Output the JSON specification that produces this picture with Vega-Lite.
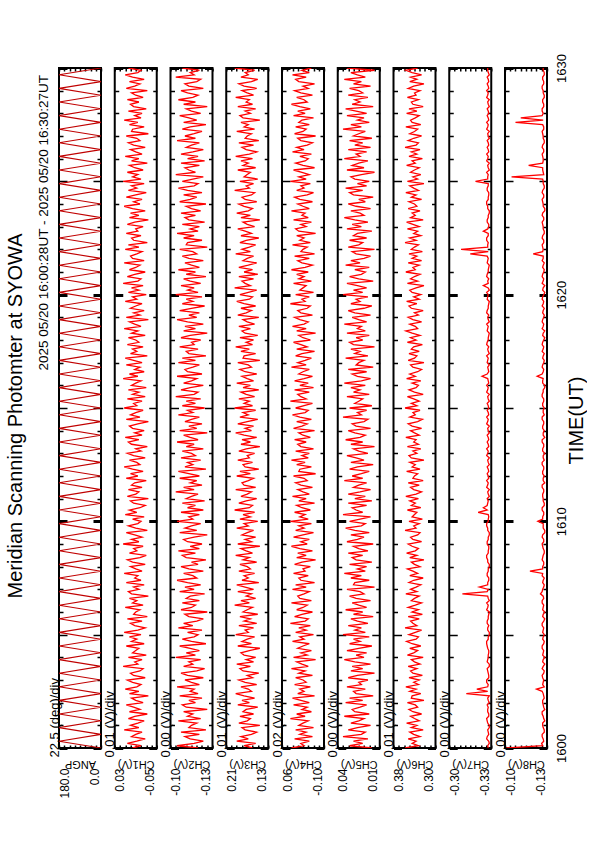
{
"$schema":"https://vega.github.io/schema/vega-lite/v6.json",
"background":"white",
"padding":{"left":5,"top":52,"right":0,"bottom":0},
"autosize":{"type":"pad"},
"title":{"text":"Meridian Scanning Photomter at SYOWA","orient":"left","anchor":"middle","frame":"group","fontSize":20,"fontWeight":"normal","font":"Liberation Sans","color":"black","offset":10,"dx":-8},
"config":{"font":"Liberation Sans","view":{"stroke":"black","strokeWidth":2},"axis":{"domain":false,"grid":false,"tickColor":"black","labelColor":"black","titleColor":"black","labelFont":"Liberation Sans","titleFont":"Liberation Sans","labelFontWeight":"normal","titleFontWeight":"normal"}},
"bounds":"flush",
"spacing":13.75,
"datasets":{
"ang":[{"t":1600.0,"a":0},{"t":1600.3,"a":180},{"t":1600.6,"a":0},{"t":1600.9,"a":180},{"t":1601.2,"a":0},{"t":1601.5,"a":180},{"t":1601.8,"a":0},{"t":1602.1,"a":180},{"t":1602.4,"a":0},{"t":1602.7,"a":180},{"t":1603.0,"a":0},{"t":1603.3,"a":180},{"t":1603.6,"a":0},{"t":1603.9,"a":180},{"t":1604.2,"a":0},{"t":1604.5,"a":180},{"t":1604.8,"a":0},{"t":1605.1,"a":180},{"t":1605.4,"a":0},{"t":1605.7,"a":180},{"t":1606.0,"a":0},{"t":1606.3,"a":180},{"t":1606.6,"a":0},{"t":1606.9,"a":180},{"t":1607.2,"a":0},{"t":1607.5,"a":180},{"t":1607.8,"a":0},{"t":1608.1,"a":180},{"t":1608.4,"a":0},{"t":1608.7,"a":180},{"t":1609.0,"a":0},{"t":1609.3,"a":180},{"t":1609.6,"a":0},{"t":1609.9,"a":180},{"t":1610.2,"a":0},{"t":1610.5,"a":180},{"t":1610.8,"a":0},{"t":1611.1,"a":180},{"t":1611.4,"a":0},{"t":1611.7,"a":180},{"t":1612.0,"a":0},{"t":1612.3,"a":180},{"t":1612.6,"a":0},{"t":1612.9,"a":180},{"t":1613.2,"a":0},{"t":1613.5,"a":180},{"t":1613.8,"a":0},{"t":1614.1,"a":180},{"t":1614.4,"a":0},{"t":1614.7,"a":180},{"t":1615.0,"a":0},{"t":1615.3,"a":180},{"t":1615.6,"a":0},{"t":1615.9,"a":180},{"t":1616.2,"a":0},{"t":1616.5,"a":180},{"t":1616.8,"a":0},{"t":1617.1,"a":180},{"t":1617.4,"a":0},{"t":1617.7,"a":180},{"t":1618.0,"a":0},{"t":1618.3,"a":180},{"t":1618.6,"a":0},{"t":1618.9,"a":180},{"t":1619.2,"a":0},{"t":1619.5,"a":180},{"t":1619.8,"a":0},{"t":1620.1,"a":180},{"t":1620.4,"a":0},{"t":1620.7,"a":180},{"t":1621.0,"a":0},{"t":1621.3,"a":180},{"t":1621.6,"a":0},{"t":1621.9,"a":180},{"t":1622.2,"a":0},{"t":1622.5,"a":180},{"t":1622.8,"a":0},{"t":1623.1,"a":180},{"t":1623.4,"a":0},{"t":1623.7,"a":180},{"t":1624.0,"a":0},{"t":1624.3,"a":180},{"t":1624.6,"a":0},{"t":1624.9,"a":180},{"t":1625.2,"a":0},{"t":1625.5,"a":180},{"t":1625.8,"a":0},{"t":1626.1,"a":180},{"t":1626.4,"a":0},{"t":1626.7,"a":180},{"t":1627.0,"a":0},{"t":1627.3,"a":180},{"t":1627.6,"a":0},{"t":1627.9,"a":180},{"t":1628.2,"a":0},{"t":1628.5,"a":180},{"t":1628.8,"a":0},{"t":1629.1,"a":180},{"t":1629.4,"a":0},{"t":1629.7,"a":180},{"t":1630.0,"a":0}],
"ch":[
{"t":1600.0,"c1":-0.004,"c2":-0.121,"c3":0.160,"c4":0.024,"c5":0.014,"c6":0.358,"c7":-0.3297,"c8":-0.101},
{"t":1600.1,"c1":-0.020,"c2":-0.105,"c3":0.176,"c4":-0.024,"c5":0.031,"c6":0.3325,"c7":-0.3293,"c8":-0.1287},
{"t":1600.2,"c1":0.006,"c2":-0.118,"c3":0.154,"c4":-0.012,"c5":0.021,"c6":0.3445,"c7":-0.3305,"c8":-0.1279},
{"t":1600.3,"c1":-0.012,"c2":-0.125,"c3":0.190,"c4":-0.044,"c5":0.028,"c6":0.337,"c7":-0.3301,"c8":-0.1295},
{"t":1600.4,"c1":-0.028,"c2":-0.115,"c3":0.168,"c4":0.012,"c5":0.017,"c6":0.352,"c7":-0.3285,"c8":-0.1291},
{"t":1600.5,"c1":-0.002,"c2":-0.111,"c3":0.182,"c4":-0.056,"c5":0.036,"c6":0.3295,"c7":-0.3289,"c8":-0.1283},
{"t":1600.6,"c1":-0.010,"c2":-0.122,"c3":0.162,"c4":-0.008,"c5":0.022,"c6":0.3415,"c7":-0.3301,"c8":-0.1283},
{"t":1600.7,"c1":-0.022,"c2":-0.108,"c3":0.152,"c4":-0.032,"c5":0.019,"c6":0.349,"c7":-0.3297,"c8":-0.1299},
{"t":1600.8,"c1":0.012,"c2":-0.127,"c3":0.174,"c4":0.008,"c5":0.032,"c6":0.3235,"c7":-0.3293,"c8":-0.1299},
{"t":1600.9,"c1":-0.016,"c2":-0.114,"c3":0.180,"c4":-0.060,"c5":0.025,"c6":0.346,"c7":-0.3305,"c8":-0.1291},
{"t":1601.0,"c1":0.000,"c2":-0.116,"c3":0.146,"c4":-0.004,"c5":0.015,"c6":0.3355,"c7":-0.3305,"c8":-0.1287},
{"t":1601.1,"c1":-0.014,"c2":-0.120,"c3":0.186,"c4":-0.020,"c5":0.030,"c6":0.355,"c7":-0.3293,"c8":-0.1287},
{"t":1601.2,"c1":-0.026,"c2":-0.106,"c3":0.170,"c4":-0.040,"c5":0.024,"c6":0.331,"c7":-0.3289,"c8":-0.1303},
{"t":1601.3,"c1":0.004,"c2":-0.123,"c3":0.164,"c4":0.028,"c5":0.020,"c6":0.340,"c7":-0.3285,"c8":-0.1295},
{"t":1601.4,"c1":-0.008,"c2":-0.113,"c3":0.184,"c4":-0.028,"c5":0.035,"c6":0.3475,"c7":-0.3301,"c8":-0.1291},
{"t":1601.5,"c1":-0.032,"c2":-0.117,"c3":0.158,"c4":0.004,"c5":0.016,"c6":0.3265,"c7":-0.3301,"c8":-0.1283},
{"t":1601.6,"c1":0.002,"c2":-0.110,"c3":0.178,"c4":-0.052,"c5":0.027,"c6":0.343,"c7":-0.3293,"c8":-0.1283},
{"t":1601.7,"c1":-0.018,"c2":-0.128,"c3":0.172,"c4":-0.016,"c5":0.029,"c6":0.3505,"c7":-0.3293,"c8":-0.1303},
{"t":1601.8,"c1":-0.006,"c2":-0.112,"c3":0.150,"c4":-0.036,"c5":0.023,"c6":0.334,"c7":-0.3297,"c8":-0.1295},
{"t":1601.9,"c1":0.008,"c2":-0.109,"c3":0.188,"c4":0.016,"c5":0.018,"c6":0.3385,"c7":-0.3289,"c8":-0.1291},
{"t":1602.0,"c1":-0.024,"c2":-0.119,"c3":0.166,"c4":-0.044,"c5":0.034,"c6":0.3535,"c7":-0.3305,"c8":-0.1287},
{"t":1602.1,"c1":-0.010,"c2":-0.114,"c3":0.180,"c4":-0.012,"c5":0.021,"c6":0.322,"c7":-0.3297,"c8":-0.1287},
{"t":1602.2,"c1":-0.002,"c2":-0.124,"c3":0.156,"c4":0.020,"c5":0.031,"c6":0.346,"c7":-0.3293,"c8":-0.1299},
{"t":1602.3,"c1":-0.034,"c2":-0.107,"c3":0.176,"c4":-0.064,"c5":0.013,"c6":0.3445,"c7":-0.3305,"c8":-0.1295},
{"t":1602.4,"c1":0.002,"c2":-0.121,"c3":0.192,"c4":0.000,"c5":0.026,"c6":0.328,"c7":-0.3130,"c8":-0.1291},
{"t":1602.5,"c1":-0.016,"c2":-0.115,"c3":0.162,"c4":-0.024,"c5":0.028,"c6":0.349,"c7":-0.3293,"c8":-0.1283},
{"t":1602.6,"c1":0.010,"c2":-0.118,"c3":0.168,"c4":-0.008,"c5":0.019,"c6":0.337,"c7":-0.3210,"c8":-0.1240},
{"t":1602.7,"c1":-0.012,"c2":-0.105,"c3":0.182,"c4":-0.048,"c5":0.033,"c6":0.3565,"c7":-0.3293,"c8":-0.1299},
{"t":1602.8,"c1":-0.020,"c2":-0.122,"c3":0.152,"c4":0.012,"c5":0.022,"c6":0.3325,"c7":-0.3297,"c8":-0.1287},
{"t":1602.9,"c1":-0.004,"c2":-0.116,"c3":0.174,"c4":-0.032,"c5":0.024,"c6":0.3415,"c7":-0.3285,"c8":-0.1291},
{"t":1603.0,"c1":0.006,"c2":-0.111,"c3":0.186,"c4":-0.020,"c5":0.017,"c6":0.331,"c7":-0.3285,"c8":-0.1295},
{"t":1603.1,"c1":-0.028,"c2":-0.125,"c3":0.160,"c4":0.008,"c5":0.032,"c6":0.3505,"c7":-0.3301,"c8":-0.1287},
{"t":1603.2,"c1":-0.006,"c2":-0.113,"c3":0.170,"c4":-0.056,"c5":0.025,"c6":0.325,"c7":-0.3301,"c8":-0.1283},
{"t":1603.3,"c1":0.000,"c2":-0.108,"c3":0.148,"c4":-0.004,"c5":0.012,"c6":0.343,"c7":-0.3297,"c8":-0.1295},
{"t":1603.4,"c1":-0.018,"c2":-0.120,"c3":0.178,"c4":-0.028,"c5":0.030,"c6":0.3475,"c7":-0.3293,"c8":-0.1299},
{"t":1603.5,"c1":-0.024,"c2":-0.126,"c3":0.184,"c4":0.024,"c5":0.021,"c6":0.3355,"c7":-0.3289,"c8":-0.1283},
{"t":1603.6,"c1":0.014,"c2":-0.110,"c3":0.164,"c4":-0.040,"c5":0.029,"c6":0.352,"c7":-0.3305,"c8":-0.1291},
{"t":1603.7,"c1":-0.014,"c2":-0.117,"c3":0.190,"c4":-0.016,"c5":0.015,"c6":0.3295,"c7":-0.3305,"c8":-0.1303},
{"t":1603.8,"c1":-0.008,"c2":-0.114,"c3":0.158,"c4":0.004,"c5":0.027,"c6":0.340,"c7":-0.3289,"c8":-0.1287},
{"t":1603.9,"c1":-0.022,"c2":-0.123,"c3":0.172,"c4":-0.068,"c5":0.035,"c6":0.346,"c7":-0.3293,"c8":-0.1291},
{"t":1604.0,"c1":0.004,"c2":-0.104,"c3":0.154,"c4":0.016,"c5":0.020,"c6":0.3235,"c7":-0.3297,"c8":-0.1303},
{"t":1604.1,"c1":-0.030,"c2":-0.119,"c3":0.176,"c4":-0.036,"c5":0.026,"c6":0.3535,"c7":-0.3297,"c8":-0.1287},
{"t":1604.2,"c1":-0.004,"c2":-0.112,"c3":0.182,"c4":-0.012,"c5":0.018,"c6":0.3415,"c7":-0.3301,"c8":-0.1291},
{"t":1604.3,"c1":-0.010,"c2":-0.122,"c3":0.166,"c4":-0.052,"c5":0.033,"c6":0.334,"c7":-0.3301,"c8":-0.1295},
{"t":1604.4,"c1":-0.016,"c2":-0.115,"c3":0.146,"c4":0.000,"c5":0.024,"c6":0.349,"c7":-0.3293,"c8":-0.1283},
{"t":1604.5,"c1":0.008,"c2":-0.107,"c3":0.188,"c4":-0.020,"c5":0.014,"c6":0.328,"c7":-0.3289,"c8":-0.1283},
{"t":1604.6,"c1":-0.026,"c2":-0.127,"c3":0.162,"c4":-0.044,"c5":0.031,"c6":0.3445,"c7":-0.3285,"c8":-0.1295},
{"t":1604.7,"c1":-0.002,"c2":-0.116,"c3":0.180,"c4":0.020,"c5":0.023,"c6":0.355,"c7":-0.3285,"c8":-0.1299},
{"t":1604.8,"c1":-0.012,"c2":-0.109,"c3":0.170,"c4":-0.024,"c5":0.028,"c6":0.337,"c7":-0.3297,"c8":-0.1287},
{"t":1604.9,"c1":0.002,"c2":-0.118,"c3":0.156,"c4":-0.008,"c5":0.016,"c6":0.3325,"c7":-0.3297,"c8":-0.1291},
{"t":1605.0,"c1":-0.020,"c2":-0.121,"c3":0.192,"c4":-0.060,"c5":0.036,"c6":0.3505,"c7":-0.3305,"c8":-0.1299},
{"t":1605.1,"c1":0.012,"c2":-0.113,"c3":0.168,"c4":0.008,"c5":0.019,"c6":0.3385,"c7":-0.3305,"c8":-0.1287},
{"t":1605.2,"c1":-0.014,"c2":-0.124,"c3":0.174,"c4":-0.032,"c5":0.027,"c6":0.3265,"c7":-0.3293,"c8":-0.1291},
{"t":1605.3,"c1":-0.028,"c2":-0.106,"c3":0.158,"c4":-0.004,"c5":0.022,"c6":0.358,"c7":-0.3293,"c8":-0.1295},
{"t":1605.4,"c1":-0.008,"c2":-0.117,"c3":0.186,"c4":-0.048,"c5":0.032,"c6":0.3355,"c7":-0.3301,"c8":-0.1283},
{"t":1605.5,"c1":0.000,"c2":-0.110,"c3":0.152,"c4":0.028,"c5":0.017,"c6":0.343,"c7":-0.3289,"c8":-0.1283},
{"t":1605.6,"c1":-0.022,"c2":-0.120,"c3":0.176,"c4":-0.028,"c5":0.025,"c6":0.3475,"c7":-0.3289,"c8":-0.1295},
{"t":1605.7,"c1":0.006,"c2":-0.125,"c3":0.164,"c4":-0.040,"c5":0.030,"c6":0.331,"c7":-0.3297,"c8":-0.1303},
{"t":1605.8,"c1":-0.032,"c2":-0.114,"c3":0.184,"c4":0.012,"c5":0.013,"c6":0.352,"c7":-0.3297,"c8":-0.1287},
{"t":1605.9,"c1":-0.006,"c2":-0.111,"c3":0.150,"c4":-0.016,"c5":0.028,"c6":0.325,"c7":-0.3301,"c8":-0.1291},
{"t":1606.0,"c1":-0.010,"c2":-0.128,"c3":0.178,"c4":-0.056,"c5":0.021,"c6":0.3445,"c7":-0.3305,"c8":-0.1303},
{"t":1606.1,"c1":-0.018,"c2":-0.108,"c3":0.170,"c4":0.004,"c5":0.034,"c6":0.3325,"c7":-0.3285,"c8":-0.1287},
{"t":1606.2,"c1":0.010,"c2":-0.116,"c3":0.160,"c4":-0.020,"c5":0.018,"c6":0.352,"c7":-0.3293,"c8":-0.1291},
{"t":1606.3,"c1":-0.024,"c2":-0.119,"c3":0.194,"c4":-0.036,"c5":0.024,"c6":0.3385,"c7":-0.3297,"c8":-0.1295},
{"t":1606.4,"c1":-0.004,"c2":-0.109,"c3":0.166,"c4":0.024,"c5":0.029,"c6":0.3265,"c7":-0.3285,"c8":-0.1283},
{"t":1606.5,"c1":-0.012,"c2":-0.122,"c3":0.182,"c4":-0.052,"c5":0.015,"c6":0.346,"c7":-0.3305,"c8":-0.1283},
{"t":1606.6,"c1":0.002,"c2":-0.112,"c3":0.154,"c4":-0.008,"c5":0.026,"c6":0.340,"c7":-0.3297,"c8":-0.1295},
{"t":1606.7,"c1":-0.034,"c2":-0.115,"c3":0.172,"c4":0.000,"c5":0.031,"c6":0.331,"c7":-0.3293,"c8":-0.1291},
{"t":1606.8,"c1":-0.002,"c2":-0.126,"c3":0.162,"c4":-0.024,"c5":0.020,"c6":0.3565,"c7":-0.3100,"c8":-0.1270},
{"t":1606.9,"c1":0.004,"c2":-0.107,"c3":0.188,"c4":-0.044,"c5":0.023,"c6":0.3355,"c7":-0.3289,"c8":-0.1283},
{"t":1607.0,"c1":-0.016,"c2":-0.118,"c3":0.158,"c4":0.020,"c5":0.033,"c6":0.3475,"c7":-0.3297,"c8":-0.1287},
{"t":1607.1,"c1":-0.006,"c2":-0.111,"c3":0.174,"c4":-0.032,"c5":0.012,"c6":0.337,"c7":-0.3230,"c8":-0.1295},
{"t":1607.2,"c1":-0.026,"c2":-0.123,"c3":0.190,"c4":0.008,"c5":0.028,"c6":0.328,"c7":-0.3293,"c8":-0.1299},
{"t":1607.3,"c1":0.008,"c2":-0.113,"c3":0.148,"c4":-0.064,"c5":0.027,"c6":0.3505,"c7":-0.3293,"c8":-0.1287},
{"t":1607.4,"c1":-0.020,"c2":-0.105,"c3":0.180,"c4":-0.012,"c5":0.016,"c6":0.3415,"c7":-0.3301,"c8":-0.1291},
{"t":1607.5,"c1":-0.008,"c2":-0.120,"c3":0.168,"c4":-0.004,"c5":0.030,"c6":0.3235,"c7":-0.3301,"c8":-0.1299},
{"t":1607.6,"c1":-0.014,"c2":-0.117,"c3":0.176,"c4":-0.040,"c5":0.022,"c6":0.349,"c7":-0.3289,"c8":-0.1283},
{"t":1607.7,"c1":0.012,"c2":-0.110,"c3":0.156,"c4":0.016,"c5":0.035,"c6":0.334,"c7":-0.3289,"c8":-0.1287},
{"t":1607.8,"c1":-0.022,"c2":-0.125,"c3":0.186,"c4":-0.028,"c5":0.019,"c6":0.343,"c7":-0.3297,"c8":-0.1190},
{"t":1607.9,"c1":-0.010,"c2":-0.114,"c3":0.164,"c4":-0.020,"c5":0.025,"c6":0.3535,"c7":-0.3297,"c8":-0.1287},
{"t":1608.0,"c1":0.000,"c2":-0.108,"c3":0.170,"c4":-0.048,"c5":0.018,"c6":0.3295,"c7":-0.3305,"c8":-0.1287},
{"t":1608.1,"c1":-0.028,"c2":-0.121,"c3":0.184,"c4":0.012,"c5":0.031,"c6":0.340,"c7":-0.3305,"c8":-0.1295},
{"t":1608.2,"c1":-0.004,"c2":-0.116,"c3":0.152,"c4":-0.016,"c5":0.014,"c6":0.346,"c7":-0.3293,"c8":-0.1295},
{"t":1608.3,"c1":0.006,"c2":-0.127,"c3":0.178,"c4":-0.068,"c5":0.026,"c6":0.322,"c7":-0.3293,"c8":-0.1283},
{"t":1608.4,"c1":-0.018,"c2":-0.112,"c3":0.166,"c4":0.004,"c5":0.029,"c6":0.349,"c7":-0.3285,"c8":-0.1287},
{"t":1608.5,"c1":-0.030,"c2":-0.109,"c3":0.192,"c4":-0.032,"c5":0.021,"c6":0.3355,"c7":-0.3285,"c8":-0.1291},
{"t":1608.6,"c1":0.002,"c2":-0.119,"c3":0.160,"c4":0.000,"c5":0.032,"c6":0.355,"c7":-0.3297,"c8":-0.1299},
{"t":1608.7,"c1":-0.012,"c2":-0.106,"c3":0.172,"c4":-0.056,"c5":0.017,"c6":0.3385,"c7":-0.3297,"c8":-0.1299},
{"t":1608.8,"c1":-0.006,"c2":-0.122,"c3":0.182,"c4":-0.008,"c5":0.024,"c6":0.3325,"c7":-0.3301,"c8":-0.1291},
{"t":1608.9,"c1":-0.024,"c2":-0.115,"c3":0.146,"c4":0.024,"c5":0.028,"c6":0.3445,"c7":-0.3301,"c8":-0.1287},
{"t":1609.0,"c1":0.014,"c2":-0.124,"c3":0.188,"c4":-0.036,"c5":0.013,"c6":0.352,"c7":-0.3289,"c8":-0.1283},
{"t":1609.1,"c1":-0.016,"c2":-0.113,"c3":0.162,"c4":-0.012,"c5":0.033,"c6":0.3265,"c7":-0.3289,"c8":-0.1295},
{"t":1609.2,"c1":-0.002,"c2":-0.110,"c3":0.174,"c4":-0.044,"c5":0.025,"c6":0.343,"c7":-0.3297,"c8":-0.1295},
{"t":1609.3,"c1":-0.022,"c2":-0.118,"c3":0.154,"c4":0.016,"c5":0.020,"c6":0.3475,"c7":-0.3297,"c8":-0.1283},
{"t":1609.4,"c1":-0.008,"c2":-0.128,"c3":0.180,"c4":-0.020,"c5":0.030,"c6":0.334,"c7":-0.3305,"c8":-0.1287},
{"t":1609.5,"c1":0.008,"c2":-0.107,"c3":0.170,"c4":-0.060,"c5":0.016,"c6":0.3295,"c7":-0.3305,"c8":-0.1303},
{"t":1609.6,"c1":-0.032,"c2":-0.120,"c3":0.158,"c4":0.008,"c5":0.027,"c6":0.358,"c7":-0.3293,"c8":-0.1303},
{"t":1609.7,"c1":-0.010,"c2":-0.111,"c3":0.190,"c4":-0.024,"c5":0.034,"c6":0.337,"c7":-0.3293,"c8":-0.1291},
{"t":1609.8,"c1":0.004,"c2":-0.116,"c3":0.168,"c4":-0.004,"c5":0.022,"c6":0.3415,"c7":-0.3285,"c8":-0.1291},
{"t":1609.9,"c1":-0.014,"c2":-0.123,"c3":0.176,"c4":-0.052,"c5":0.019,"c6":0.331,"c7":-0.3285,"c8":-0.1291},
{"t":1610.0,"c1":-0.020,"c2":-0.105,"c3":0.150,"c4":0.028,"c5":0.031,"c6":0.3505,"c7":-0.3297,"c8":-0.1250},
{"t":1610.1,"c1":-0.004,"c2":-0.117,"c3":0.184,"c4":-0.040,"c5":0.023,"c6":0.325,"c7":-0.3297,"c8":-0.1287},
{"t":1610.2,"c1":-0.026,"c2":-0.114,"c3":0.164,"c4":-0.008,"c5":0.015,"c6":0.3445,"c7":-0.3301,"c8":-0.1287},
{"t":1610.3,"c1":0.010,"c2":-0.122,"c3":0.178,"c4":-0.028,"c5":0.036,"c6":0.340,"c7":-0.3297,"c8":-0.1295},
{"t":1610.4,"c1":-0.012,"c2":-0.108,"c3":0.156,"c4":0.012,"c5":0.021,"c6":0.3355,"c7":-0.3220,"c8":-0.1295},
{"t":1610.5,"c1":0.002,"c2":-0.125,"c3":0.194,"c4":-0.048,"c5":0.026,"c6":0.3535,"c7":-0.3289,"c8":-0.1283},
{"t":1610.6,"c1":-0.018,"c2":-0.113,"c3":0.166,"c4":-0.016,"c5":0.029,"c6":0.328,"c7":-0.3260,"c8":-0.1283},
{"t":1610.7,"c1":-0.028,"c2":-0.119,"c3":0.160,"c4":0.004,"c5":0.018,"c6":0.346,"c7":-0.3289,"c8":-0.1299},
{"t":1610.8,"c1":-0.006,"c2":-0.109,"c3":0.186,"c4":-0.064,"c5":0.032,"c6":0.3385,"c7":-0.3293,"c8":-0.1299},
{"t":1610.9,"c1":0.000,"c2":-0.126,"c3":0.172,"c4":-0.004,"c5":0.014,"c6":0.349,"c7":-0.3297,"c8":-0.1291},
{"t":1611.0,"c1":-0.034,"c2":-0.112,"c3":0.152,"c4":-0.032,"c5":0.027,"c6":0.3325,"c7":-0.3289,"c8":-0.1291},
{"t":1611.1,"c1":0.006,"c2":-0.116,"c3":0.182,"c4":0.020,"c5":0.019,"c6":0.3565,"c7":-0.3305,"c8":-0.1287},
{"t":1611.2,"c1":-0.010,"c2":-0.121,"c3":0.170,"c4":-0.044,"c5":0.032,"c6":0.337,"c7":-0.3297,"c8":-0.1287},
{"t":1611.3,"c1":-0.016,"c2":-0.104,"c3":0.162,"c4":-0.020,"c5":0.023,"c6":0.3265,"c7":-0.3293,"c8":-0.1295},
{"t":1611.4,"c1":0.004,"c2":-0.118,"c3":0.192,"c4":0.000,"c5":0.015,"c6":0.3415,"c7":-0.3305,"c8":-0.1295},
{"t":1611.5,"c1":-0.022,"c2":-0.110,"c3":0.154,"c4":-0.056,"c5":0.028,"c6":0.3475,"c7":-0.3285,"c8":-0.1283},
{"t":1611.6,"c1":-0.002,"c2":-0.124,"c3":0.176,"c4":-0.012,"c5":0.024,"c6":0.331,"c7":-0.3293,"c8":-0.1283},
{"t":1611.7,"c1":-0.008,"c2":-0.115,"c3":0.180,"c4":0.008,"c5":0.018,"c6":0.352,"c7":-0.3297,"c8":-0.1303},
{"t":1611.8,"c1":-0.030,"c2":-0.120,"c3":0.168,"c4":-0.036,"c5":0.035,"c6":0.3235,"c7":-0.3285,"c8":-0.1291},
{"t":1611.9,"c1":0.008,"c2":-0.107,"c3":0.158,"c4":-0.024,"c5":0.021,"c6":0.343,"c7":-0.3301,"c8":-0.1291},
{"t":1612.0,"c1":-0.014,"c2":-0.122,"c3":0.190,"c4":0.016,"c5":0.029,"c6":0.340,"c7":-0.3297,"c8":-0.1299},
{"t":1612.1,"c1":0.000,"c2":-0.114,"c3":0.164,"c4":-0.068,"c5":0.022,"c6":0.334,"c7":-0.3289,"c8":-0.1287},
{"t":1612.2,"c1":-0.024,"c2":-0.106,"c3":0.184,"c4":-0.004,"c5":0.016,"c6":0.355,"c7":-0.3301,"c8":-0.1287},
{"t":1612.3,"c1":-0.004,"c2":-0.127,"c3":0.148,"c4":-0.008,"c5":0.031,"c6":0.3295,"c7":-0.3297,"c8":-0.1295},
{"t":1612.4,"c1":0.012,"c2":-0.111,"c3":0.174,"c4":-0.052,"c5":0.025,"c6":0.3445,"c7":-0.3289,"c8":-0.1295},
{"t":1612.5,"c1":-0.018,"c2":-0.117,"c3":0.178,"c4":0.004,"c5":0.013,"c6":0.3385,"c7":-0.3305,"c8":-0.1283},
{"t":1612.6,"c1":-0.012,"c2":-0.113,"c3":0.160,"c4":-0.028,"c5":0.030,"c6":0.349,"c7":-0.3297,"c8":-0.1283},
{"t":1612.7,"c1":0.002,"c2":-0.123,"c3":0.188,"c4":0.024,"c5":0.020,"c6":0.322,"c7":-0.3293,"c8":-0.1299},
{"t":1612.8,"c1":-0.028,"c2":-0.108,"c3":0.166,"c4":-0.040,"c5":0.026,"c6":0.346,"c7":-0.3305,"c8":-0.1291},
{"t":1612.9,"c1":-0.006,"c2":-0.119,"c3":0.170,"c4":-0.016,"c5":0.033,"c6":0.3505,"c7":-0.3285,"c8":-0.1291},
{"t":1613.0,"c1":0.006,"c2":-0.116,"c3":0.156,"c4":-0.044,"c5":0.017,"c6":0.3355,"c7":-0.3293,"c8":-0.1303},
{"t":1613.1,"c1":-0.020,"c2":-0.109,"c3":0.186,"c4":0.008,"c5":0.024,"c6":0.343,"c7":-0.3297,"c8":-0.1287},
{"t":1613.2,"c1":-0.010,"c2":-0.125,"c3":0.172,"c4":-0.060,"c5":0.028,"c6":0.328,"c7":-0.3285,"c8":-0.1287},
{"t":1613.3,"c1":-0.032,"c2":-0.112,"c3":0.146,"c4":-0.012,"c5":0.012,"c6":0.3535,"c7":-0.3301,"c8":-0.1295},
{"t":1613.4,"c1":-0.002,"c2":-0.118,"c3":0.182,"c4":0.000,"c5":0.030,"c6":0.3325,"c7":-0.3297,"c8":-0.1295},
{"t":1613.5,"c1":0.004,"c2":-0.105,"c3":0.164,"c4":-0.032,"c5":0.021,"c6":0.3415,"c7":-0.3289,"c8":-0.1283},
{"t":1613.6,"c1":-0.016,"c2":-0.121,"c3":0.180,"c4":0.012,"c5":0.034,"c6":0.337,"c7":-0.3301,"c8":-0.1283},
{"t":1613.7,"c1":0.010,"c2":-0.115,"c3":0.152,"c4":-0.048,"c5":0.023,"c6":0.3565,"c7":-0.3297,"c8":-0.1303},
{"t":1613.8,"c1":-0.022,"c2":-0.110,"c3":0.176,"c4":-0.020,"c5":0.019,"c6":0.331,"c7":-0.3289,"c8":-0.1291},
{"t":1613.9,"c1":-0.008,"c2":-0.128,"c3":0.192,"c4":-0.004,"c5":0.027,"c6":0.340,"c7":-0.3305,"c8":-0.1291},
{"t":1614.0,"c1":-0.026,"c2":-0.107,"c3":0.162,"c4":-0.064,"c5":0.032,"c6":0.3475,"c7":-0.3297,"c8":-0.1299},
{"t":1614.1,"c1":-0.004,"c2":-0.120,"c3":0.174,"c4":0.016,"c5":0.015,"c6":0.3265,"c7":-0.3293,"c8":-0.1287},
{"t":1614.2,"c1":0.002,"c2":-0.114,"c3":0.158,"c4":-0.016,"c5":0.026,"c6":0.3445,"c7":-0.3305,"c8":-0.1287},
{"t":1614.3,"c1":-0.014,"c2":-0.124,"c3":0.188,"c4":-0.036,"c5":0.029,"c6":0.352,"c7":-0.3285,"c8":-0.1295},
{"t":1614.4,"c1":-0.034,"c2":-0.111,"c3":0.170,"c4":0.004,"c5":0.020,"c6":0.334,"c7":-0.3293,"c8":-0.1295},
{"t":1614.5,"c1":0.008,"c2":-0.116,"c3":0.150,"c4":-0.052,"c5":0.017,"c6":0.325,"c7":-0.3297,"c8":-0.1283},
{"t":1614.6,"c1":-0.018,"c2":-0.122,"c3":0.184,"c4":-0.008,"c5":0.036,"c6":0.349,"c7":-0.3285,"c8":-0.1283},
{"t":1614.7,"c1":0.000,"c2":-0.106,"c3":0.168,"c4":0.020,"c5":0.022,"c6":0.3385,"c7":-0.3301,"c8":-0.1299},
{"t":1614.8,"c1":-0.010,"c2":-0.117,"c3":0.178,"c4":-0.028,"c5":0.025,"c6":0.343,"c7":-0.3297,"c8":-0.1291},
{"t":1614.9,"c1":-0.024,"c2":-0.113,"c3":0.154,"c4":-0.040,"c5":0.018,"c6":0.3295,"c7":-0.3289,"c8":-0.1291},
{"t":1615.0,"c1":0.012,"c2":-0.126,"c3":0.194,"c4":0.008,"c5":0.031,"c6":0.358,"c7":-0.3301,"c8":-0.1299},
{"t":1615.1,"c1":-0.012,"c2":-0.109,"c3":0.160,"c4":-0.024,"c5":0.014,"c6":0.3355,"c7":-0.3297,"c8":-0.1287},
{"t":1615.2,"c1":-0.006,"c2":-0.119,"c3":0.176,"c4":-0.056,"c5":0.027,"c6":0.346,"c7":-0.3289,"c8":-0.1287},
{"t":1615.3,"c1":-0.022,"c2":-0.112,"c3":0.166,"c4":0.028,"c5":0.024,"c6":0.331,"c7":-0.3305,"c8":-0.1295},
{"t":1615.4,"c1":0.006,"c2":-0.123,"c3":0.186,"c4":-0.032,"c5":0.021,"c6":0.3415,"c7":-0.3297,"c8":-0.1295},
{"t":1615.5,"c1":-0.028,"c2":-0.104,"c3":0.156,"c4":-0.012,"c5":0.033,"c6":0.3535,"c7":-0.3293,"c8":-0.1283},
{"t":1615.6,"c1":-0.004,"c2":-0.118,"c3":0.172,"c4":0.000,"c5":0.016,"c6":0.3235,"c7":-0.3305,"c8":-0.1283},
{"t":1615.7,"c1":-0.016,"c2":-0.121,"c3":0.182,"c4":-0.044,"c5":0.028,"c6":0.340,"c7":-0.3285,"c8":-0.1291},
{"t":1615.8,"c1":0.004,"c2":-0.108,"c3":0.148,"c4":0.012,"c5":0.023,"c6":0.3505,"c7":-0.3293,"c8":-0.1291},
{"t":1615.9,"c1":-0.030,"c2":-0.115,"c3":0.178,"c4":-0.060,"c5":0.030,"c6":0.337,"c7":-0.3297,"c8":-0.1303},
{"t":1616.0,"c1":-0.002,"c2":-0.125,"c3":0.164,"c4":-0.008,"c5":0.019,"c6":0.3325,"c7":-0.3285,"c8":-0.1303},
{"t":1616.1,"c1":-0.010,"c2":-0.110,"c3":0.190,"c4":-0.040,"c5":0.035,"c6":0.3445,"c7":-0.3301,"c8":-0.1287},
{"t":1616.2,"c1":-0.020,"c2":-0.116,"c3":0.158,"c4":0.012,"c5":0.022,"c6":0.328,"c7":-0.3297,"c8":-0.1287},
{"t":1616.3,"c1":0.014,"c2":-0.120,"c3":0.170,"c4":-0.024,"c5":0.015,"c6":0.355,"c7":-0.3293,"c8":-0.1291},
{"t":1616.4,"c1":-0.014,"c2":-0.105,"c3":0.180,"c4":-0.056,"c5":0.025,"c6":0.3385,"c7":-0.3250,"c8":-0.1245},
{"t":1616.5,"c1":0.002,"c2":-0.124,"c3":0.152,"c4":-0.004,"c5":0.029,"c6":0.349,"c7":-0.3289,"c8":-0.1283},
{"t":1616.6,"c1":-0.026,"c2":-0.113,"c3":0.174,"c4":-0.020,"c5":0.018,"c6":0.334,"c7":-0.3301,"c8":-0.1291},
{"t":1616.7,"c1":-0.008,"c2":-0.111,"c3":0.184,"c4":-0.044,"c5":0.032,"c6":0.3265,"c7":-0.3297,"c8":-0.1295},
{"t":1616.8,"c1":-0.018,"c2":-0.117,"c3":0.162,"c4":0.024,"c5":0.013,"c6":0.343,"c7":-0.3293,"c8":-0.1283},
{"t":1616.9,"c1":0.008,"c2":-0.122,"c3":0.168,"c4":-0.032,"c5":0.026,"c6":0.3475,"c7":-0.3305,"c8":-0.1287},
{"t":1617.0,"c1":-0.022,"c2":-0.106,"c3":0.188,"c4":0.000,"c5":0.024,"c6":0.322,"c7":-0.3289,"c8":-0.1295},
{"t":1617.1,"c1":-0.006,"c2":-0.119,"c3":0.146,"c4":-0.028,"c5":0.020,"c6":0.352,"c7":-0.3293,"c8":-0.1299},
{"t":1617.2,"c1":0.010,"c2":-0.109,"c3":0.178,"c4":-0.052,"c5":0.034,"c6":0.340,"c7":-0.3297,"c8":-0.1287},
{"t":1617.3,"c1":-0.032,"c2":-0.127,"c3":0.176,"c4":0.008,"c5":0.017,"c6":0.3355,"c7":-0.3285,"c8":-0.1291},
{"t":1617.4,"c1":0.000,"c2":-0.114,"c3":0.154,"c4":-0.016,"c5":0.027,"c6":0.3505,"c7":-0.3305,"c8":-0.1299},
{"t":1617.5,"c1":-0.012,"c2":-0.112,"c3":0.182,"c4":-0.064,"c5":0.023,"c6":0.331,"c7":-0.3297,"c8":-0.1283},
{"t":1617.6,"c1":-0.004,"c2":-0.121,"c3":0.166,"c4":0.004,"c5":0.030,"c6":0.346,"c7":-0.3293,"c8":-0.1291},
{"t":1617.7,"c1":-0.024,"c2":-0.107,"c3":0.192,"c4":-0.036,"c5":0.012,"c6":0.3415,"c7":-0.3301,"c8":-0.1295},
{"t":1617.8,"c1":0.006,"c2":-0.118,"c3":0.160,"c4":-0.012,"c5":0.028,"c6":0.325,"c7":-0.3285,"c8":-0.1283},
{"t":1617.9,"c1":-0.016,"c2":-0.116,"c3":0.172,"c4":0.016,"c5":0.031,"c6":0.3535,"c7":-0.3289,"c8":-0.1287},
{"t":1618.0,"c1":-0.010,"c2":-0.123,"c3":0.158,"c4":-0.048,"c5":0.021,"c6":0.337,"c7":-0.3297,"c8":-0.1295},
{"t":1618.1,"c1":0.004,"c2":-0.108,"c3":0.184,"c4":-0.020,"c5":0.026,"c6":0.3475,"c7":-0.3297,"c8":-0.1303},
{"t":1618.2,"c1":-0.028,"c2":-0.115,"c3":0.150,"c4":-0.004,"c5":0.016,"c6":0.3295,"c7":-0.3301,"c8":-0.1287},
{"t":1618.3,"c1":-0.002,"c2":-0.128,"c3":0.174,"c4":-0.068,"c5":0.033,"c6":0.3445,"c7":-0.3305,"c8":-0.1291},
{"t":1618.4,"c1":-0.014,"c2":-0.110,"c3":0.180,"c4":0.004,"c5":0.019,"c6":0.3565,"c7":-0.3289,"c8":-0.1303},
{"t":1618.5,"c1":0.012,"c2":-0.119,"c3":0.164,"c4":-0.032,"c5":0.025,"c6":0.334,"c7":-0.3293,"c8":-0.1283},
{"t":1618.6,"c1":-0.020,"c2":-0.111,"c3":0.186,"c4":0.020,"c5":0.022,"c6":0.3385,"c7":-0.3297,"c8":-0.1291},
{"t":1618.7,"c1":-0.008,"c2":-0.125,"c3":0.156,"c4":-0.024,"c5":0.035,"c6":0.349,"c7":-0.3285,"c8":-0.1295},
{"t":1618.8,"c1":0.002,"c2":-0.113,"c3":0.170,"c4":-0.040,"c5":0.018,"c6":0.3265,"c7":-0.3305,"c8":-0.1283},
{"t":1618.9,"c1":-0.034,"c2":-0.105,"c3":0.178,"c4":-0.008,"c5":0.024,"c6":0.343,"c7":-0.3297,"c8":-0.1287},
{"t":1619.0,"c1":0.008,"c2":-0.120,"c3":0.148,"c4":0.012,"c5":0.029,"c6":0.352,"c7":-0.3293,"c8":-0.1295},
{"t":1619.1,"c1":-0.018,"c2":-0.114,"c3":0.188,"c4":-0.056,"c5":0.015,"c6":0.3325,"c7":-0.3301,"c8":-0.1299},
{"t":1619.2,"c1":-0.006,"c2":-0.122,"c3":0.172,"c4":-0.012,"c5":0.027,"c6":0.340,"c7":-0.3285,"c8":-0.1287},
{"t":1619.3,"c1":-0.026,"c2":-0.107,"c3":0.162,"c4":0.000,"c5":0.032,"c6":0.3235,"c7":-0.3289,"c8":-0.1291},
{"t":1619.4,"c1":0.000,"c2":-0.116,"c3":0.182,"c4":-0.036,"c5":0.020,"c6":0.346,"c7":-0.3297,"c8":-0.1299},
{"t":1619.5,"c1":-0.010,"c2":-0.126,"c3":0.154,"c4":-0.048,"c5":0.014,"c6":0.3505,"c7":-0.3297,"c8":-0.1283},
{"t":1619.6,"c1":-0.022,"c2":-0.109,"c3":0.176,"c4":0.028,"c5":0.030,"c6":0.3355,"c7":-0.3301,"c8":-0.1291},
{"t":1619.7,"c1":0.010,"c2":-0.117,"c3":0.190,"c4":-0.028,"c5":0.023,"c6":0.355,"c7":-0.3305,"c8":-0.1295},
{"t":1619.8,"c1":-0.012,"c2":-0.112,"c3":0.166,"c4":-0.016,"c5":0.026,"c6":0.331,"c7":-0.3289,"c8":-0.1283},
{"t":1619.9,"c1":-0.004,"c2":-0.124,"c3":0.160,"c4":-0.044,"c5":0.017,"c6":0.3415,"c7":-0.3293,"c8":-0.1287},
{"t":1620.0,"c1":-0.030,"c2":-0.104,"c3":0.184,"c4":0.008,"c5":0.036,"c6":0.328,"c7":-0.3297,"c8":-0.1295},
{"t":1620.1,"c1":0.004,"c2":-0.121,"c3":0.168,"c4":-0.060,"c5":0.021,"c6":0.3445,"c7":-0.3285,"c8":-0.1303},
{"t":1620.2,"c1":-0.016,"c2":-0.113,"c3":0.152,"c4":-0.008,"c5":0.028,"c6":0.349,"c7":-0.3305,"c8":-0.1287},
{"t":1620.3,"c1":-0.002,"c2":-0.118,"c3":0.194,"c4":-0.020,"c5":0.018,"c6":0.337,"c7":-0.3297,"c8":-0.1291},
{"t":1620.4,"c1":-0.024,"c2":-0.108,"c3":0.164,"c4":-0.032,"c5":0.025,"c6":0.322,"c7":-0.3260,"c8":-0.1303},
{"t":1620.5,"c1":0.014,"c2":-0.123,"c3":0.174,"c4":0.016,"c5":0.033,"c6":0.3535,"c7":-0.3297,"c8":-0.1283},
{"t":1620.6,"c1":-0.014,"c2":-0.115,"c3":0.180,"c4":-0.052,"c5":0.013,"c6":0.334,"c7":-0.3293,"c8":-0.1291},
{"t":1620.7,"c1":-0.020,"c2":-0.110,"c3":0.158,"c4":-0.004,"c5":0.024,"c6":0.3475,"c7":-0.3301,"c8":-0.1295},
{"t":1620.8,"c1":0.006,"c2":-0.127,"c3":0.186,"c4":-0.024,"c5":0.031,"c6":0.340,"c7":-0.3285,"c8":-0.1283},
{"t":1620.9,"c1":-0.008,"c2":-0.112,"c3":0.150,"c4":0.004,"c5":0.022,"c6":0.3295,"c7":-0.3289,"c8":-0.1287},
{"t":1621.0,"c1":-0.028,"c2":-0.119,"c3":0.176,"c4":-0.040,"c5":0.019,"c6":0.3565,"c7":-0.3297,"c8":-0.1295},
{"t":1621.1,"c1":0.002,"c2":-0.106,"c3":0.160,"c4":0.024,"c5":0.027,"c6":0.3385,"c7":-0.3297,"c8":-0.1299},
{"t":1621.2,"c1":-0.010,"c2":-0.122,"c3":0.186,"c4":-0.028,"c5":0.016,"c6":0.343,"c7":-0.3301,"c8":-0.1287},
{"t":1621.3,"c1":-0.018,"c2":-0.116,"c3":0.168,"c4":-0.056,"c5":0.034,"c6":0.331,"c7":-0.3305,"c8":-0.1291},
{"t":1621.4,"c1":0.012,"c2":-0.111,"c3":0.152,"c4":-0.016,"c5":0.023,"c6":0.352,"c7":-0.3289,"c8":-0.1299},
{"t":1621.5,"c1":-0.026,"c2":-0.125,"c3":0.178,"c4":0.000,"c5":0.030,"c6":0.3265,"c7":-0.3293,"c8":-0.1283},
{"t":1621.6,"c1":-0.004,"c2":-0.114,"c3":0.170,"c4":-0.044,"c5":0.020,"c6":0.3445,"c7":-0.3297,"c8":-0.1291},
{"t":1621.7,"c1":0.000,"c2":-0.109,"c3":0.158,"c4":0.012,"c5":0.015,"c6":0.3355,"c7":-0.3289,"c8":-0.1291},
{"t":1621.8,"c1":-0.012,"c2":-0.120,"c3":0.192,"c4":-0.064,"c5":0.026,"c6":0.3505,"c7":-0.3160,"c8":-0.1215},
{"t":1621.9,"c1":-0.022,"c2":-0.117,"c3":0.164,"c4":-0.012,"c5":0.029,"c6":0.325,"c7":-0.3297,"c8":-0.1287},
{"t":1622.0,"c1":0.010,"c2":-0.107,"c3":0.180,"c4":-0.020,"c5":0.012,"c6":0.346,"c7":-0.3090,"c8":-0.1291},
{"t":1622.1,"c1":-0.016,"c2":-0.128,"c3":0.166,"c4":-0.036,"c5":0.032,"c6":0.340,"c7":-0.3293,"c8":-0.1287},
{"t":1622.2,"c1":0.004,"c2":-0.112,"c3":0.154,"c4":0.020,"c5":0.024,"c6":0.3325,"c7":-0.3293,"c8":-0.1283},
{"t":1622.3,"c1":-0.032,"c2":-0.113,"c3":0.184,"c4":-0.048,"c5":0.021,"c6":0.358,"c7":-0.3297,"c8":-0.1295},
{"t":1622.4,"c1":-0.006,"c2":-0.124,"c3":0.172,"c4":-0.008,"c5":0.031,"c6":0.337,"c7":-0.3285,"c8":-0.1295},
{"t":1622.5,"c1":-0.002,"c2":-0.110,"c3":0.148,"c4":-0.024,"c5":0.018,"c6":0.349,"c7":-0.3285,"c8":-0.1283},
{"t":1622.6,"c1":-0.020,"c2":-0.118,"c3":0.182,"c4":0.004,"c5":0.028,"c6":0.328,"c7":-0.3297,"c8":-0.1287},
{"t":1622.7,"c1":0.008,"c2":-0.105,"c3":0.162,"c4":-0.068,"c5":0.025,"c6":0.3415,"c7":-0.3297,"c8":-0.1299},
{"t":1622.8,"c1":-0.014,"c2":-0.121,"c3":0.174,"c4":-0.004,"c5":0.014,"c6":0.334,"c7":-0.3260,"c8":-0.1299},
{"t":1622.9,"c1":-0.010,"c2":-0.115,"c3":0.188,"c4":0.008,"c5":0.033,"c6":0.3535,"c7":-0.3293,"c8":-0.1291},
{"t":1623.0,"c1":-0.024,"c2":-0.122,"c3":0.156,"c4":-0.032,"c5":0.022,"c6":0.331,"c7":-0.3301,"c8":-0.1291},
{"t":1623.1,"c1":0.006,"c2":-0.109,"c3":0.170,"c4":-0.012,"c5":0.029,"c6":0.343,"c7":-0.3301,"c8":-0.1287},
{"t":1623.2,"c1":-0.008,"c2":-0.126,"c3":0.178,"c4":-0.052,"c5":0.017,"c6":0.355,"c7":-0.3289,"c8":-0.1283},
{"t":1623.3,"c1":-0.034,"c2":-0.114,"c3":0.146,"c4":0.016,"c5":0.027,"c6":0.3235,"c7":-0.3289,"c8":-0.1295},
{"t":1623.4,"c1":0.002,"c2":-0.111,"c3":0.182,"c4":-0.040,"c5":0.035,"c6":0.3475,"c7":-0.3297,"c8":-0.1295},
{"t":1623.5,"c1":-0.016,"c2":-0.119,"c3":0.164,"c4":-0.016,"c5":0.020,"c6":0.3385,"c7":-0.3297,"c8":-0.1283},
{"t":1623.6,"c1":0.000,"c2":-0.108,"c3":0.190,"c4":-0.028,"c5":0.023,"c6":0.3445,"c7":-0.3305,"c8":-0.1287},
{"t":1623.7,"c1":-0.028,"c2":-0.123,"c3":0.168,"c4":0.024,"c5":0.030,"c6":0.3295,"c7":-0.3305,"c8":-0.1303},
{"t":1623.8,"c1":-0.004,"c2":-0.116,"c3":0.160,"c4":-0.044,"c5":0.015,"c6":0.352,"c7":-0.3293,"c8":-0.1303},
{"t":1623.9,"c1":0.012,"c2":-0.112,"c3":0.176,"c4":-0.020,"c5":0.026,"c6":0.3355,"c7":-0.3293,"c8":-0.1291},
{"t":1624.0,"c1":-0.018,"c2":-0.127,"c3":0.186,"c4":0.000,"c5":0.032,"c6":0.340,"c7":-0.3285,"c8":-0.1291},
{"t":1624.1,"c1":-0.006,"c2":-0.107,"c3":0.152,"c4":-0.056,"c5":0.019,"c6":0.3505,"c7":-0.3285,"c8":-0.1287},
{"t":1624.2,"c1":-0.022,"c2":-0.115,"c3":0.174,"c4":-0.008,"c5":0.024,"c6":0.3265,"c7":-0.3297,"c8":-0.1283},
{"t":1624.3,"c1":0.008,"c2":-0.120,"c3":0.180,"c4":0.012,"c5":0.013,"c6":0.346,"c7":-0.3297,"c8":-0.1295},
{"t":1624.4,"c1":-0.010,"c2":-0.110,"c3":0.162,"c4":-0.036,"c5":0.028,"c6":0.337,"c7":-0.3301,"c8":-0.1295},
{"t":1624.5,"c1":-0.030,"c2":-0.124,"c3":0.156,"c4":-0.060,"c5":0.031,"c6":0.3565,"c7":-0.3301,"c8":-0.1283},
{"t":1624.6,"c1":0.004,"c2":-0.113,"c3":0.194,"c4":0.004,"c5":0.021,"c6":0.3325,"c7":-0.3289,"c8":-0.1287},
{"t":1624.7,"c1":-0.012,"c2":-0.106,"c3":0.166,"c4":-0.024,"c5":0.034,"c6":0.3415,"c7":-0.3289,"c8":-0.1299},
{"t":1624.8,"c1":-0.002,"c2":-0.118,"c3":0.172,"c4":-0.012,"c5":0.018,"c6":0.349,"c7":-0.3297,"c8":-0.1299},
{"t":1624.9,"c1":-0.026,"c2":-0.121,"c3":0.158,"c4":-0.048,"c5":0.025,"c6":0.322,"c7":-0.3297,"c8":-0.1291},
{"t":1625.0,"c1":0.014,"c2":-0.109,"c3":0.184,"c4":0.028,"c5":0.016,"c6":0.3535,"c7":-0.3200,"c8":-0.1291},
{"t":1625.1,"c1":-0.020,"c2":-0.117,"c3":0.150,"c4":-0.032,"c5":0.027,"c6":0.334,"c7":-0.3293,"c8":-0.1287},
{"t":1625.2,"c1":-0.004,"c2":-0.125,"c3":0.176,"c4":-0.004,"c5":0.030,"c6":0.343,"c7":-0.3293,"c8":-0.1050},
{"t":1625.3,"c1":-0.014,"c2":-0.104,"c3":0.170,"c4":-0.044,"c5":0.022,"c6":0.328,"c7":-0.3297,"c8":-0.1295},
{"t":1625.4,"c1":0.006,"c2":-0.119,"c3":0.164,"c4":-0.016,"c5":0.012,"c6":0.3475,"c7":-0.3285,"c8":-0.1291},
{"t":1625.5,"c1":-0.024,"c2":-0.114,"c3":0.188,"c4":0.016,"c5":0.033,"c6":0.340,"c7":-0.3305,"c8":-0.1287},
{"t":1625.6,"c1":-0.008,"c2":-0.111,"c3":0.154,"c4":-0.064,"c5":0.020,"c6":0.331,"c7":-0.3297,"c8":-0.1287},
{"t":1625.7,"c1":0.002,"c2":-0.122,"c3":0.178,"c4":-0.020,"c5":0.029,"c6":0.355,"c7":-0.3293,"c8":-0.1180},
{"t":1625.8,"c1":-0.032,"c2":-0.108,"c3":0.168,"c4":0.008,"c5":0.024,"c6":0.3385,"c7":-0.3305,"c8":-0.1287},
{"t":1625.9,"c1":-0.002,"c2":-0.126,"c3":0.182,"c4":-0.028,"c5":0.017,"c6":0.3445,"c7":-0.3285,"c8":-0.1291},
{"t":1626.0,"c1":-0.016,"c2":-0.113,"c3":0.160,"c4":-0.040,"c5":0.035,"c6":0.325,"c7":-0.3293,"c8":-0.1291},
{"t":1626.1,"c1":0.010,"c2":-0.121,"c3":0.192,"c4":-0.008,"c5":0.023,"c6":0.3505,"c7":-0.3297,"c8":-0.1287},
{"t":1626.2,"c1":-0.022,"c2":-0.108,"c3":0.166,"c4":-0.052,"c5":0.026,"c6":0.3355,"c7":-0.3285,"c8":-0.1283},
{"t":1626.3,"c1":-0.010,"c2":-0.117,"c3":0.152,"c4":0.020,"c5":0.018,"c6":0.346,"c7":-0.3301,"c8":-0.1295},
{"t":1626.4,"c1":0.000,"c2":-0.125,"c3":0.172,"c4":-0.024,"c5":0.032,"c6":0.3295,"c7":-0.3297,"c8":-0.1295},
{"t":1626.5,"c1":-0.028,"c2":-0.112,"c3":0.180,"c4":0.004,"c5":0.015,"c6":0.358,"c7":-0.3289,"c8":-0.1283},
{"t":1626.6,"c1":-0.006,"c2":-0.116,"c3":0.158,"c4":-0.036,"c5":0.027,"c6":0.337,"c7":-0.3301,"c8":-0.1287},
{"t":1626.7,"c1":0.004,"c2":-0.122,"c3":0.186,"c4":-0.056,"c5":0.021,"c6":0.3325,"c7":-0.3297,"c8":-0.1299},
{"t":1626.8,"c1":-0.018,"c2":-0.105,"c3":0.148,"c4":-0.012,"c5":0.031,"c6":0.352,"c7":-0.3289,"c8":-0.1299},
{"t":1626.9,"c1":-0.012,"c2":-0.119,"c3":0.174,"c4":0.000,"c5":0.014,"c6":0.3415,"c7":-0.3305,"c8":-0.1291},
{"t":1627.0,"c1":0.008,"c2":-0.111,"c3":0.170,"c4":-0.068,"c5":0.028,"c6":0.3265,"c7":-0.3297,"c8":-0.1291},
{"t":1627.1,"c1":-0.034,"c2":-0.118,"c3":0.162,"c4":0.012,"c5":0.024,"c6":0.349,"c7":-0.3293,"c8":-0.1287},
{"t":1627.2,"c1":-0.002,"c2":-0.124,"c3":0.190,"c4":-0.020,"c5":0.019,"c6":0.340,"c7":-0.3305,"c8":-0.1283},
{"t":1627.3,"c1":-0.004,"c2":-0.109,"c3":0.156,"c4":-0.032,"c5":0.036,"c6":0.334,"c7":-0.3285,"c8":-0.1295},
{"t":1627.4,"c1":-0.026,"c2":-0.115,"c3":0.176,"c4":0.008,"c5":0.022,"c6":0.3565,"c7":-0.3293,"c8":-0.1295},
{"t":1627.5,"c1":0.002,"c2":-0.127,"c3":0.168,"c4":-0.044,"c5":0.030,"c6":0.328,"c7":-0.3297,"c8":-0.1287},
{"t":1627.6,"c1":-0.014,"c2":-0.110,"c3":0.182,"c4":-0.004,"c5":0.016,"c6":0.3445,"c7":-0.3285,"c8":-0.1080},
{"t":1627.7,"c1":0.012,"c2":-0.120,"c3":0.146,"c4":-0.016,"c5":0.025,"c6":0.3475,"c7":-0.3301,"c8":-0.1291},
{"t":1627.8,"c1":-0.020,"c2":-0.114,"c3":0.178,"c4":-0.060,"c5":0.020,"c6":0.3385,"c7":-0.3297,"c8":-0.1120},
{"t":1627.9,"c1":-0.008,"c2":-0.107,"c3":0.184,"c4":0.016,"c5":0.033,"c6":0.331,"c7":-0.3289,"c8":-0.1283},
{"t":1628.0,"c1":-0.022,"c2":-0.123,"c3":0.164,"c4":-0.028,"c5":0.018,"c6":0.355,"c7":-0.3301,"c8":-0.1291},
{"t":1628.1,"c1":0.004,"c2":-0.116,"c3":0.174,"c4":0.000,"c5":0.026,"c6":0.3355,"c7":-0.3297,"c8":-0.1283},
{"t":1628.2,"c1":-0.030,"c2":-0.112,"c3":0.154,"c4":-0.048,"c5":0.034,"c6":0.3505,"c7":-0.3289,"c8":-0.1283},
{"t":1628.3,"c1":-0.006,"c2":-0.128,"c3":0.188,"c4":-0.008,"c5":0.013,"c6":0.3235,"c7":-0.3305,"c8":-0.1295},
{"t":1628.4,"c1":0.000,"c2":-0.110,"c3":0.160,"c4":0.024,"c5":0.029,"c6":0.343,"c7":-0.3297,"c8":-0.1295},
{"t":1628.5,"c1":-0.016,"c2":-0.119,"c3":0.172,"c4":-0.036,"c5":0.023,"c6":0.346,"c7":-0.3293,"c8":-0.1287},
{"t":1628.6,"c1":0.006,"c2":-0.106,"c3":0.166,"c4":-0.024,"c5":0.027,"c6":0.3325,"c7":-0.3305,"c8":-0.1287},
{"t":1628.7,"c1":-0.024,"c2":-0.117,"c3":0.192,"c4":0.004,"c5":0.017,"c6":0.3535,"c7":-0.3285,"c8":-0.1299},
{"t":1628.8,"c1":-0.010,"c2":-0.121,"c3":0.158,"c4":-0.056,"c5":0.032,"c6":0.337,"c7":-0.3293,"c8":-0.1299},
{"t":1628.9,"c1":-0.002,"c2":-0.113,"c3":0.170,"c4":-0.012,"c5":0.021,"c6":0.340,"c7":-0.3297,"c8":-0.1291},
{"t":1629.0,"c1":-0.032,"c2":-0.108,"c3":0.180,"c4":0.012,"c5":0.024,"c6":0.3295,"c7":-0.3285,"c8":-0.1291},
{"t":1629.1,"c1":0.008,"c2":-0.125,"c3":0.152,"c4":-0.040,"c5":0.031,"c6":0.352,"c7":-0.3301,"c8":-0.1283},
{"t":1629.2,"c1":-0.008,"c2":-0.114,"c3":0.176,"c4":-0.020,"c5":0.015,"c6":0.3415,"c7":-0.3297,"c8":-0.1283},
{"t":1629.3,"c1":-0.018,"c2":-0.111,"c3":0.186,"c4":-0.064,"c5":0.028,"c6":0.322,"c7":-0.3289,"c8":-0.1295},
{"t":1629.4,"c1":0.002,"c2":-0.120,"c3":0.162,"c4":-0.004,"c5":0.022,"c6":0.349,"c7":-0.3301,"c8":-0.1295},
{"t":1629.5,"c1":-0.026,"c2":-0.123,"c3":0.150,"c4":0.008,"c5":0.035,"c6":0.3355,"c7":-0.3297,"c8":-0.1287},
{"t":1629.6,"c1":-0.004,"c2":-0.104,"c3":0.182,"c4":-0.032,"c5":0.019,"c6":0.3475,"c7":-0.3289,"c8":-0.1287},
{"t":1629.7,"c1":0.010,"c2":-0.118,"c3":0.168,"c4":0.020,"c5":0.025,"c6":0.3265,"c7":-0.3305,"c8":-0.1299},
{"t":1629.8,"c1":-0.014,"c2":-0.115,"c3":0.174,"c4":-0.044,"c5":0.030,"c6":0.3445,"c7":-0.3297,"c8":-0.1299},
{"t":1629.9,"c1":-0.020,"c2":-0.122,"c3":0.156,"c4":-0.016,"c5":0.012,"c6":0.3565,"c7":-0.3293,"c8":-0.1291},
{"t":1630.0,"c1":0.004,"c2":-0.109,"c3":0.194,"c4":-0.052,"c5":0.033,"c6":0.334,"c7":-0.3293,"c8":-0.1291}
]},
"hconcat":[
{"width":42,"height":680,"data":{"name":"ang"},
"title":{"text":"2025 05/20 16:00:28UT - 2025 05/20 16:30:27UT","orient":"left","anchor":"end","frame":"group","offset":-13,"fontSize":13.5,"fontWeight":"normal","baseline":"alphabetic","dx":-7,"color":"black"},
"layer":[
{"mark":{"type":"line","color":"#c00000","strokeWidth":1.1,"clip":true},
"encoding":{
"y":{"field":"t","type":"quantitative","scale":{"domain":[1600,1630],"nice":false,"zero":false},"axis":{"orient":"left","values":[1600,1601,1602,1603,1604,1605,1606,1607,1608,1609,1610,1611,1612,1613,1614,1615,1616,1617,1618,1619,1620,1621,1622,1623,1624,1625,1626,1627,1628,1629,1630],"labels":false,"tickSize":{"condition":{"test":"datum.value % 5 == 0","value":-8},"value":-4},"tickWidth":{"condition":{"test":"datum.value % 10 == 0","value":3},"value":1.5},"title":"22.5 (deg)/div","titleAngle":-90,"titleX":-1,"titleY":689,"titleAlign":"left","titleBaseline":"alphabetic","titleFontSize":13}},
"x":{"field":"a","type":"quantitative","scale":{"domain":[0,180],"reverse":true,"nice":false,"zero":false},"axis":{"orient":"bottom","values":[0,22.5,45,67.5,90,112.5,135,157.5,180],"tickSize":-3,"tickWidth":1.5,"labelExpr":"datum.value == 180 ? '180.0' : datum.value == 0 ? '0.0' : ''","labelAngle":-90,"labelAlign":"right","labelBaseline":{"condition":{"test":"datum.value == 180","value":"top"},"value":"bottom"},"labelPadding":23,"labelFontSize":12,"labelOverlap":false,"labelFlush":false,"labelBound":false,"title":"ANGP","titleAngle":180,"titleY":15,"titleAlign":"center","titleBaseline":"middle","titleFontSize":11}},
"order":{"field":"t","type":"quantitative"}}},
{"mark":{"type":"line","opacity":0,"clip":true},
"encoding":{
"y":{"field":"t","type":"quantitative","axis":{"orient":"right","values":[1600,1601,1602,1603,1604,1605,1606,1607,1608,1609,1610,1611,1612,1613,1614,1615,1616,1617,1618,1619,1620,1621,1622,1623,1624,1625,1626,1627,1628,1629,1630],"labels":false,"tickSize":{"condition":{"test":"datum.value % 5 == 0","value":-8},"value":-4},"tickWidth":{"condition":{"test":"datum.value % 10 == 0","value":3},"value":1.5},"title":null}},
"x":{"field":"a","type":"quantitative","axis":{"orient":"top","values":[0,22.5,45,67.5,90,112.5,135,157.5,180],"labels":false,"tickSize":-3,"tickWidth":1.5,"title":null}},
"order":{"field":"t","type":"quantitative"}}}
],
"resolve":{"axis":{"x":"independent","y":"independent"}}},

{"width":42,"height":680,"data":{"name":"ch"},
"layer":[
{"mark":{"type":"line","color":"#ff0000","strokeWidth":1.3,"clip":true},
"encoding":{
"y":{"field":"t","type":"quantitative","scale":{"domain":[1600,1630],"nice":false,"zero":false},"axis":{"orient":"left","values":[1600,1601,1602,1603,1604,1605,1606,1607,1608,1609,1610,1611,1612,1613,1614,1615,1616,1617,1618,1619,1620,1621,1622,1623,1624,1625,1626,1627,1628,1629,1630],"labels":false,"tickSize":{"condition":{"test":"datum.value % 5 == 0","value":-8},"value":-4},"tickWidth":{"condition":{"test":"datum.value % 10 == 0","value":3},"value":1.5},"title":"0.01 (V)/div","titleAngle":-90,"titleX":-1,"titleY":689,"titleAlign":"left","titleBaseline":"alphabetic","titleFontSize":13}},
"x":{"field":"c1","type":"quantitative","scale":{"domain":[-0.05,0.03],"reverse":true,"nice":false,"zero":false},"axis":{"orient":"bottom","values":[-0.05,-0.04,-0.03,-0.02,-0.01,0,0.01,0.02,0.03],"tickSize":-3,"tickWidth":1.5,"labelExpr":"datum.value == 0.03 ? '0.03' : datum.value == -0.05 ? '-0.05' : ''","labelAngle":-90,"labelAlign":"right","labelBaseline":{"condition":{"test":"datum.value == 0.03","value":"top"},"value":"bottom"},"labelPadding":23,"labelFontSize":12,"labelOverlap":false,"labelFlush":false,"labelBound":false,"title":"CH1(V)","titleAngle":180,"titleY":15,"titleAlign":"center","titleBaseline":"middle","titleFontSize":11}},
"order":{"field":"t","type":"quantitative"}}},
{"mark":{"type":"line","opacity":0,"clip":true},
"encoding":{
"y":{"field":"t","type":"quantitative","axis":{"orient":"right","values":[1600,1601,1602,1603,1604,1605,1606,1607,1608,1609,1610,1611,1612,1613,1614,1615,1616,1617,1618,1619,1620,1621,1622,1623,1624,1625,1626,1627,1628,1629,1630],"labels":false,"tickSize":{"condition":{"test":"datum.value % 5 == 0","value":-8},"value":-4},"tickWidth":{"condition":{"test":"datum.value % 10 == 0","value":3},"value":1.5},"title":null}},
"x":{"field":"c1","type":"quantitative","axis":{"orient":"top","values":[-0.05,-0.04,-0.03,-0.02,-0.01,0,0.01,0.02,0.03],"labels":false,"tickSize":-3,"tickWidth":1.5,"title":null}},
"order":{"field":"t","type":"quantitative"}}}
],
"resolve":{"axis":{"x":"independent","y":"independent"}}},

{"width":42,"height":680,"data":{"name":"ch"},
"layer":[
{"mark":{"type":"line","color":"#ff0000","strokeWidth":1.3,"clip":true},
"encoding":{
"y":{"field":"t","type":"quantitative","scale":{"domain":[1600,1630],"nice":false,"zero":false},"axis":{"orient":"left","values":[1600,1601,1602,1603,1604,1605,1606,1607,1608,1609,1610,1611,1612,1613,1614,1615,1616,1617,1618,1619,1620,1621,1622,1623,1624,1625,1626,1627,1628,1629,1630],"labels":false,"tickSize":{"condition":{"test":"datum.value % 5 == 0","value":-8},"value":-4},"tickWidth":{"condition":{"test":"datum.value % 10 == 0","value":3},"value":1.5},"title":"0.00 (V)/div","titleAngle":-90,"titleX":-1,"titleY":689,"titleAlign":"left","titleBaseline":"alphabetic","titleFontSize":13}},
"x":{"field":"c2","type":"quantitative","scale":{"domain":[-0.132,-0.1],"reverse":true,"nice":false,"zero":false},"axis":{"orient":"bottom","values":[-0.132,-0.128,-0.124,-0.12,-0.116,-0.112,-0.108,-0.104,-0.1],"tickSize":-3,"tickWidth":1.5,"labelExpr":"datum.value == -0.1 ? '-0.10' : datum.value == -0.132 ? '-0.13' : ''","labelAngle":-90,"labelAlign":"right","labelBaseline":{"condition":{"test":"datum.value == -0.1","value":"top"},"value":"bottom"},"labelPadding":23,"labelFontSize":12,"labelOverlap":false,"labelFlush":false,"labelBound":false,"title":"CH2(V)","titleAngle":180,"titleY":15,"titleAlign":"center","titleBaseline":"middle","titleFontSize":11}},
"order":{"field":"t","type":"quantitative"}}},
{"mark":{"type":"line","opacity":0,"clip":true},
"encoding":{
"y":{"field":"t","type":"quantitative","axis":{"orient":"right","values":[1600,1601,1602,1603,1604,1605,1606,1607,1608,1609,1610,1611,1612,1613,1614,1615,1616,1617,1618,1619,1620,1621,1622,1623,1624,1625,1626,1627,1628,1629,1630],"labels":false,"tickSize":{"condition":{"test":"datum.value % 5 == 0","value":-8},"value":-4},"tickWidth":{"condition":{"test":"datum.value % 10 == 0","value":3},"value":1.5},"title":null}},
"x":{"field":"c2","type":"quantitative","axis":{"orient":"top","values":[-0.132,-0.128,-0.124,-0.12,-0.116,-0.112,-0.108,-0.104,-0.1],"labels":false,"tickSize":-3,"tickWidth":1.5,"title":null}},
"order":{"field":"t","type":"quantitative"}}}
],
"resolve":{"axis":{"x":"independent","y":"independent"}}},

{"width":42,"height":680,"data":{"name":"ch"},
"layer":[
{"mark":{"type":"line","color":"#ff0000","strokeWidth":1.3,"clip":true},
"encoding":{
"y":{"field":"t","type":"quantitative","scale":{"domain":[1600,1630],"nice":false,"zero":false},"axis":{"orient":"left","values":[1600,1601,1602,1603,1604,1605,1606,1607,1608,1609,1610,1611,1612,1613,1614,1615,1616,1617,1618,1619,1620,1621,1622,1623,1624,1625,1626,1627,1628,1629,1630],"labels":false,"tickSize":{"condition":{"test":"datum.value % 5 == 0","value":-8},"value":-4},"tickWidth":{"condition":{"test":"datum.value % 10 == 0","value":3},"value":1.5},"title":"0.01 (V)/div","titleAngle":-90,"titleX":-1,"titleY":689,"titleAlign":"left","titleBaseline":"alphabetic","titleFontSize":13}},
"x":{"field":"c3","type":"quantitative","scale":{"domain":[0.13,0.21],"reverse":true,"nice":false,"zero":false},"axis":{"orient":"bottom","values":[0.13,0.14,0.15,0.16,0.17,0.18,0.19,0.2,0.21],"tickSize":-3,"tickWidth":1.5,"labelExpr":"datum.value == 0.21 ? '0.21' : datum.value == 0.13 ? '0.13' : ''","labelAngle":-90,"labelAlign":"right","labelBaseline":{"condition":{"test":"datum.value == 0.21","value":"top"},"value":"bottom"},"labelPadding":23,"labelFontSize":12,"labelOverlap":false,"labelFlush":false,"labelBound":false,"title":"CH3(V)","titleAngle":180,"titleY":15,"titleAlign":"center","titleBaseline":"middle","titleFontSize":11}},
"order":{"field":"t","type":"quantitative"}}},
{"mark":{"type":"line","opacity":0,"clip":true},
"encoding":{
"y":{"field":"t","type":"quantitative","axis":{"orient":"right","values":[1600,1601,1602,1603,1604,1605,1606,1607,1608,1609,1610,1611,1612,1613,1614,1615,1616,1617,1618,1619,1620,1621,1622,1623,1624,1625,1626,1627,1628,1629,1630],"labels":false,"tickSize":{"condition":{"test":"datum.value % 5 == 0","value":-8},"value":-4},"tickWidth":{"condition":{"test":"datum.value % 10 == 0","value":3},"value":1.5},"title":null}},
"x":{"field":"c3","type":"quantitative","axis":{"orient":"top","values":[0.13,0.14,0.15,0.16,0.17,0.18,0.19,0.2,0.21],"labels":false,"tickSize":-3,"tickWidth":1.5,"title":null}},
"order":{"field":"t","type":"quantitative"}}}
],
"resolve":{"axis":{"x":"independent","y":"independent"}}},

{"width":42,"height":680,"data":{"name":"ch"},
"layer":[
{"mark":{"type":"line","color":"#ff0000","strokeWidth":1.3,"clip":true},
"encoding":{
"y":{"field":"t","type":"quantitative","scale":{"domain":[1600,1630],"nice":false,"zero":false},"axis":{"orient":"left","values":[1600,1601,1602,1603,1604,1605,1606,1607,1608,1609,1610,1611,1612,1613,1614,1615,1616,1617,1618,1619,1620,1621,1622,1623,1624,1625,1626,1627,1628,1629,1630],"labels":false,"tickSize":{"condition":{"test":"datum.value % 5 == 0","value":-8},"value":-4},"tickWidth":{"condition":{"test":"datum.value % 10 == 0","value":3},"value":1.5},"title":"0.02 (V)/div","titleAngle":-90,"titleX":-1,"titleY":689,"titleAlign":"left","titleBaseline":"alphabetic","titleFontSize":13}},
"x":{"field":"c4","type":"quantitative","scale":{"domain":[-0.1,0.06],"reverse":true,"nice":false,"zero":false},"axis":{"orient":"bottom","values":[-0.1,-0.08,-0.06,-0.04,-0.02,0,0.02,0.04,0.06],"tickSize":-3,"tickWidth":1.5,"labelExpr":"datum.value == 0.06 ? '0.06' : datum.value == -0.1 ? '-0.10' : ''","labelAngle":-90,"labelAlign":"right","labelBaseline":{"condition":{"test":"datum.value == 0.06","value":"top"},"value":"bottom"},"labelPadding":23,"labelFontSize":12,"labelOverlap":false,"labelFlush":false,"labelBound":false,"title":"CH4(V)","titleAngle":180,"titleY":15,"titleAlign":"center","titleBaseline":"middle","titleFontSize":11}},
"order":{"field":"t","type":"quantitative"}}},
{"mark":{"type":"line","opacity":0,"clip":true},
"encoding":{
"y":{"field":"t","type":"quantitative","axis":{"orient":"right","values":[1600,1601,1602,1603,1604,1605,1606,1607,1608,1609,1610,1611,1612,1613,1614,1615,1616,1617,1618,1619,1620,1621,1622,1623,1624,1625,1626,1627,1628,1629,1630],"labels":false,"tickSize":{"condition":{"test":"datum.value % 5 == 0","value":-8},"value":-4},"tickWidth":{"condition":{"test":"datum.value % 10 == 0","value":3},"value":1.5},"title":null}},
"x":{"field":"c4","type":"quantitative","axis":{"orient":"top","values":[-0.1,-0.08,-0.06,-0.04,-0.02,0,0.02,0.04,0.06],"labels":false,"tickSize":-3,"tickWidth":1.5,"title":null}},
"order":{"field":"t","type":"quantitative"}}}
],
"resolve":{"axis":{"x":"independent","y":"independent"}}},

{"width":42,"height":680,"data":{"name":"ch"},
"layer":[
{"mark":{"type":"line","color":"#ff0000","strokeWidth":1.3,"clip":true},
"encoding":{
"y":{"field":"t","type":"quantitative","scale":{"domain":[1600,1630],"nice":false,"zero":false},"axis":{"orient":"left","values":[1600,1601,1602,1603,1604,1605,1606,1607,1608,1609,1610,1611,1612,1613,1614,1615,1616,1617,1618,1619,1620,1621,1622,1623,1624,1625,1626,1627,1628,1629,1630],"labels":false,"tickSize":{"condition":{"test":"datum.value % 5 == 0","value":-8},"value":-4},"tickWidth":{"condition":{"test":"datum.value % 10 == 0","value":3},"value":1.5},"title":"0.00 (V)/div","titleAngle":-90,"titleX":-1,"titleY":689,"titleAlign":"left","titleBaseline":"alphabetic","titleFontSize":13}},
"x":{"field":"c5","type":"quantitative","scale":{"domain":[0.008,0.04],"reverse":true,"nice":false,"zero":false},"axis":{"orient":"bottom","values":[0.008,0.012,0.016,0.02,0.024,0.028,0.032,0.036,0.04],"tickSize":-3,"tickWidth":1.5,"labelExpr":"datum.value == 0.04 ? '0.04' : datum.value == 0.008 ? '0.01' : ''","labelAngle":-90,"labelAlign":"right","labelBaseline":{"condition":{"test":"datum.value == 0.04","value":"top"},"value":"bottom"},"labelPadding":23,"labelFontSize":12,"labelOverlap":false,"labelFlush":false,"labelBound":false,"title":"CH5(V)","titleAngle":180,"titleY":15,"titleAlign":"center","titleBaseline":"middle","titleFontSize":11}},
"order":{"field":"t","type":"quantitative"}}},
{"mark":{"type":"line","opacity":0,"clip":true},
"encoding":{
"y":{"field":"t","type":"quantitative","axis":{"orient":"right","values":[1600,1601,1602,1603,1604,1605,1606,1607,1608,1609,1610,1611,1612,1613,1614,1615,1616,1617,1618,1619,1620,1621,1622,1623,1624,1625,1626,1627,1628,1629,1630],"labels":false,"tickSize":{"condition":{"test":"datum.value % 5 == 0","value":-8},"value":-4},"tickWidth":{"condition":{"test":"datum.value % 10 == 0","value":3},"value":1.5},"title":null}},
"x":{"field":"c5","type":"quantitative","axis":{"orient":"top","values":[0.008,0.012,0.016,0.02,0.024,0.028,0.032,0.036,0.04],"labels":false,"tickSize":-3,"tickWidth":1.5,"title":null}},
"order":{"field":"t","type":"quantitative"}}}
],
"resolve":{"axis":{"x":"independent","y":"independent"}}},

{"width":42,"height":680,"data":{"name":"ch"},
"layer":[
{"mark":{"type":"line","color":"#ff0000","strokeWidth":1.3,"clip":true},
"encoding":{
"y":{"field":"t","type":"quantitative","scale":{"domain":[1600,1630],"nice":false,"zero":false},"axis":{"orient":"left","values":[1600,1601,1602,1603,1604,1605,1606,1607,1608,1609,1610,1611,1612,1613,1614,1615,1616,1617,1618,1619,1620,1621,1622,1623,1624,1625,1626,1627,1628,1629,1630],"labels":false,"tickSize":{"condition":{"test":"datum.value % 5 == 0","value":-8},"value":-4},"tickWidth":{"condition":{"test":"datum.value % 10 == 0","value":3},"value":1.5},"title":"0.01 (V)/div","titleAngle":-90,"titleX":-1,"titleY":689,"titleAlign":"left","titleBaseline":"alphabetic","titleFontSize":13}},
"x":{"field":"c6","type":"quantitative","scale":{"domain":[0.3,0.38],"reverse":true,"nice":false,"zero":false},"axis":{"orient":"bottom","values":[0.3,0.31,0.32,0.33,0.34,0.35,0.36,0.37,0.38],"tickSize":-3,"tickWidth":1.5,"labelExpr":"datum.value == 0.38 ? '0.38' : datum.value == 0.3 ? '0.30' : ''","labelAngle":-90,"labelAlign":"right","labelBaseline":{"condition":{"test":"datum.value == 0.38","value":"top"},"value":"bottom"},"labelPadding":23,"labelFontSize":12,"labelOverlap":false,"labelFlush":false,"labelBound":false,"title":"CH6(V)","titleAngle":180,"titleY":15,"titleAlign":"center","titleBaseline":"middle","titleFontSize":11}},
"order":{"field":"t","type":"quantitative"}}},
{"mark":{"type":"line","opacity":0,"clip":true},
"encoding":{
"y":{"field":"t","type":"quantitative","axis":{"orient":"right","values":[1600,1601,1602,1603,1604,1605,1606,1607,1608,1609,1610,1611,1612,1613,1614,1615,1616,1617,1618,1619,1620,1621,1622,1623,1624,1625,1626,1627,1628,1629,1630],"labels":false,"tickSize":{"condition":{"test":"datum.value % 5 == 0","value":-8},"value":-4},"tickWidth":{"condition":{"test":"datum.value % 10 == 0","value":3},"value":1.5},"title":null}},
"x":{"field":"c6","type":"quantitative","axis":{"orient":"top","values":[0.3,0.31,0.32,0.33,0.34,0.35,0.36,0.37,0.38],"labels":false,"tickSize":-3,"tickWidth":1.5,"title":null}},
"order":{"field":"t","type":"quantitative"}}}
],
"resolve":{"axis":{"x":"independent","y":"independent"}}},

{"width":42,"height":680,"data":{"name":"ch"},
"layer":[
{"mark":{"type":"line","color":"#ff0000","strokeWidth":1.3,"clip":true},
"encoding":{
"y":{"field":"t","type":"quantitative","scale":{"domain":[1600,1630],"nice":false,"zero":false},"axis":{"orient":"left","values":[1600,1601,1602,1603,1604,1605,1606,1607,1608,1609,1610,1611,1612,1613,1614,1615,1616,1617,1618,1619,1620,1621,1622,1623,1624,1625,1626,1627,1628,1629,1630],"labels":false,"tickSize":{"condition":{"test":"datum.value % 5 == 0","value":-8},"value":-4},"tickWidth":{"condition":{"test":"datum.value % 10 == 0","value":3},"value":1.5},"title":"0.00 (V)/div","titleAngle":-90,"titleX":-1,"titleY":689,"titleAlign":"left","titleBaseline":"alphabetic","titleFontSize":13}},
"x":{"field":"c7","type":"quantitative","scale":{"domain":[-0.332,-0.3],"reverse":true,"nice":false,"zero":false},"axis":{"orient":"bottom","values":[-0.332,-0.328,-0.324,-0.32,-0.316,-0.312,-0.308,-0.304,-0.3],"tickSize":-3,"tickWidth":1.5,"labelExpr":"datum.value == -0.3 ? '-0.30' : datum.value == -0.332 ? '-0.33' : ''","labelAngle":-90,"labelAlign":"right","labelBaseline":{"condition":{"test":"datum.value == -0.3","value":"top"},"value":"bottom"},"labelPadding":23,"labelFontSize":12,"labelOverlap":false,"labelFlush":false,"labelBound":false,"title":"CH7(V)","titleAngle":180,"titleY":15,"titleAlign":"center","titleBaseline":"middle","titleFontSize":11}},
"order":{"field":"t","type":"quantitative"}}},
{"mark":{"type":"line","opacity":0,"clip":true},
"encoding":{
"y":{"field":"t","type":"quantitative","axis":{"orient":"right","values":[1600,1601,1602,1603,1604,1605,1606,1607,1608,1609,1610,1611,1612,1613,1614,1615,1616,1617,1618,1619,1620,1621,1622,1623,1624,1625,1626,1627,1628,1629,1630],"labels":false,"tickSize":{"condition":{"test":"datum.value % 5 == 0","value":-8},"value":-4},"tickWidth":{"condition":{"test":"datum.value % 10 == 0","value":3},"value":1.5},"title":null}},
"x":{"field":"c7","type":"quantitative","axis":{"orient":"top","values":[-0.332,-0.328,-0.324,-0.32,-0.316,-0.312,-0.308,-0.304,-0.3],"labels":false,"tickSize":-3,"tickWidth":1.5,"title":null}},
"order":{"field":"t","type":"quantitative"}}}
],
"resolve":{"axis":{"x":"independent","y":"independent"}}},

{"width":42,"height":680,"data":{"name":"ch"},
"layer":[
{"mark":{"type":"line","color":"#ff0000","strokeWidth":1.3,"clip":true},
"encoding":{
"y":{"field":"t","type":"quantitative","scale":{"domain":[1600,1630],"nice":false,"zero":false},"axis":{"orient":"left","values":[1600,1601,1602,1603,1604,1605,1606,1607,1608,1609,1610,1611,1612,1613,1614,1615,1616,1617,1618,1619,1620,1621,1622,1623,1624,1625,1626,1627,1628,1629,1630],"labels":false,"tickSize":{"condition":{"test":"datum.value % 5 == 0","value":-8},"value":-4},"tickWidth":{"condition":{"test":"datum.value % 10 == 0","value":3},"value":1.5},"title":"0.00 (V)/div","titleAngle":-90,"titleX":-1,"titleY":689,"titleAlign":"left","titleBaseline":"alphabetic","titleFontSize":13}},
"x":{"field":"c8","type":"quantitative","scale":{"domain":[-0.132,-0.1],"reverse":true,"nice":false,"zero":false},"axis":{"orient":"bottom","values":[-0.132,-0.128,-0.124,-0.12,-0.116,-0.112,-0.108,-0.104,-0.1],"tickSize":-3,"tickWidth":1.5,"labelExpr":"datum.value == -0.1 ? '-0.10' : datum.value == -0.132 ? '-0.13' : ''","labelAngle":-90,"labelAlign":"right","labelBaseline":{"condition":{"test":"datum.value == -0.1","value":"top"},"value":"bottom"},"labelPadding":23,"labelFontSize":12,"labelOverlap":false,"labelFlush":false,"labelBound":false,"title":"CH8(V)","titleAngle":180,"titleY":15,"titleAlign":"center","titleBaseline":"middle","titleFontSize":11}},
"order":{"field":"t","type":"quantitative"}}},
{"mark":{"type":"line","opacity":0,"clip":true},
"encoding":{
"y":{"field":"t","type":"quantitative","axis":{"orient":"right","values":[1600,1601,1602,1603,1604,1605,1606,1607,1608,1609,1610,1611,1612,1613,1614,1615,1616,1617,1618,1619,1620,1621,1622,1623,1624,1625,1626,1627,1628,1629,1630],"tickSize":{"condition":{"test":"datum.value % 5 == 0","value":-8},"value":-4},"tickWidth":{"condition":{"test":"datum.value % 10 == 0","value":3},"value":1.5},"labelExpr":"datum.value % 10 == 0 ? format(datum.value, 'd') : ''","labelAngle":-90,"labelAlign":"center","labelBaseline":"top","labelPadding":16,"labelFontSize":13,"labelOverlap":false,"labelFlush":false,"labelBound":false,"title":"TIME(UT)","titleAngle":-90,"titleX":29,"titleY":352,"titleAlign":"center","titleBaseline":"middle","titleFontSize":20}},
"x":{"field":"c8","type":"quantitative","axis":{"orient":"top","values":[-0.132,-0.128,-0.124,-0.12,-0.116,-0.112,-0.108,-0.104,-0.1],"labels":false,"tickSize":-3,"tickWidth":1.5,"title":null}},
"order":{"field":"t","type":"quantitative"}}}
],
"resolve":{"axis":{"x":"independent","y":"independent"}}}
]
}
